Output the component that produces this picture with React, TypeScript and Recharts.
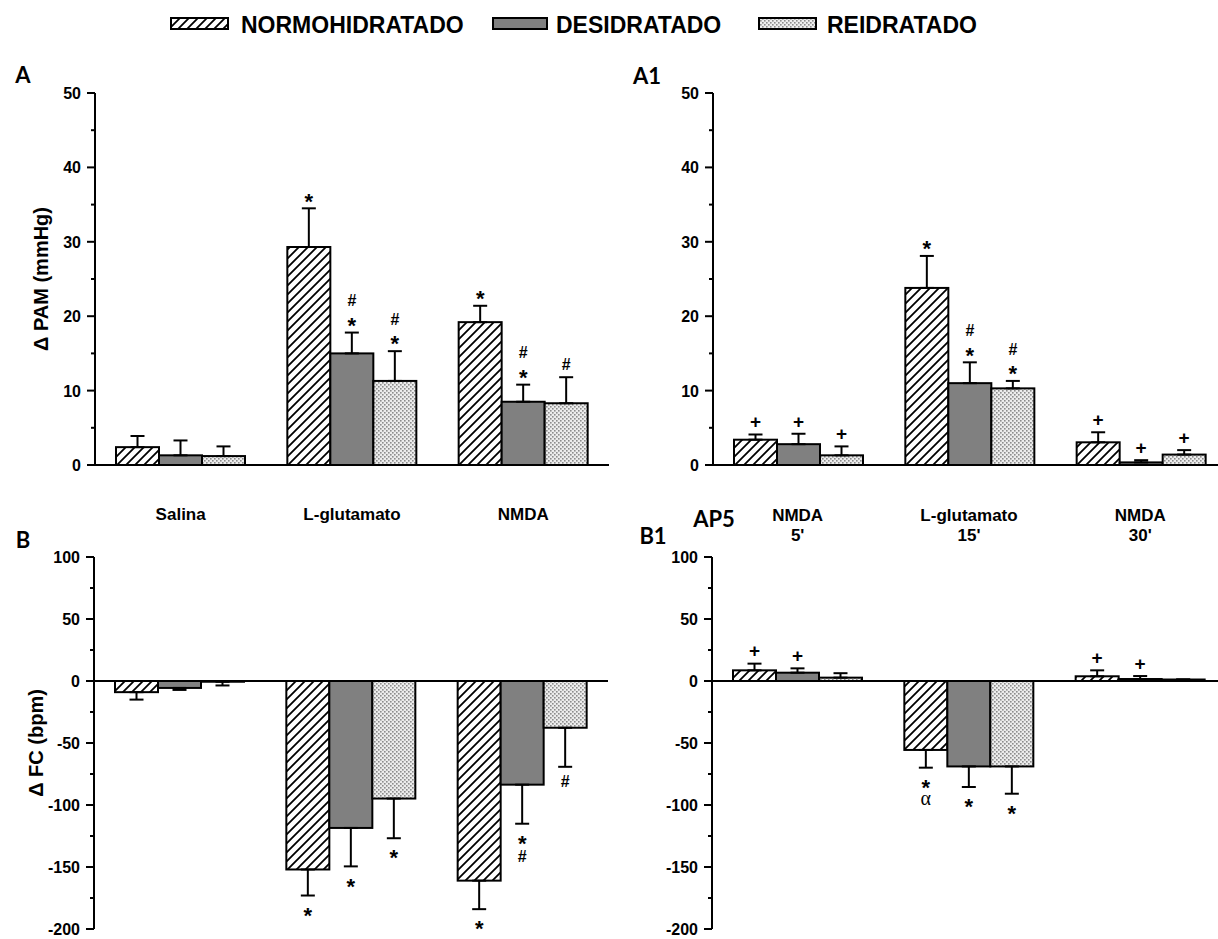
import React from 'react';
import { BarChart, Bar, XAxis, YAxis, ErrorBar, ReferenceLine } from 'recharts';

const sans = '"Liberation Sans", Arial, sans-serif';
const serif = '"Liberation Serif", "Times New Roman", serif';
const heading = 'Lato, "Open Sans", sans-serif';

const seriesNames = ['NORMOHIDRATADO', 'DESIDRATADO', 'REIDRATADO'];
const seriesKeys = ['normo', 'desid', 'reid'];
const fills = ['url(#hatch)', '#808080', 'url(#dots)'];

// categorias dos paineis A / B
const categories = ['Salina', 'L-glutamato', 'NMDA'];
// categorias dos paineis A1 / B1 (AP5)
const ap5Categories = ["NMDA\n5'", "L-glutamato\n15'", "NMDA\n30'"];

// A: Δ PAM (mmHg)
const pamNormo = [2.4, 29.3, 19.2];
const pamDesid = [1.3, 15.0, 8.5];
const pamReid = [1.2, 11.3, 8.3];
const pamNormoErr = [1.5, 5.2, 2.2];
const pamDesidErr = [2.0, 2.8, 2.3];
const pamReidErr = [1.3, 4.0, 3.5];
const pamNormoSig = ['', '*', '*'];
const pamDesidSig = ['', '#\n*', '#\n*'];
const pamReidSig = ['', '#\n*', '#'];

// A1: Δ PAM apos AP5
const ap5PamNormo = [3.4, 23.8, 3.05];
const ap5PamDesid = [2.8, 11.0, 0.35];
const ap5PamReid = [1.3, 10.3, 1.4];
const ap5PamNormoErr = [0.7, 4.3, 1.35];
const ap5PamDesidErr = [1.4, 2.8, 0.3];
const ap5PamReidErr = [1.2, 1.0, 0.6];
const ap5PamNormoSig = ['+', '*', '+'];
const ap5PamDesidSig = ['+', '#\n*', '+'];
const ap5PamReidSig = ['+', '#\n*', '+'];

// B: Δ FC (bpm)
const fcNormo = [-9, -152, -161];
const fcDesid = [-5.6, -118.5, -83.6];
const fcReid = [-0.6, -94.8, -37.7];
const fcNormoErr = [6, 21, 23];
const fcDesidErr = [1.6, 31, 31.5];
const fcReidErr = [3, 32, 31.5];
const fcNormoSig = ['', '*', '*'];
const fcDesidSig = ['', '*', '*\n#'];
const fcReidSig = ['', '*', '#'];

// B1: Δ FC apos AP5
const ap5FcNormo = [8.6, -55.6, 3.8];
const ap5FcDesid = [6.7, -68.9, 1.6];
const ap5FcReid = [2.7, -68.9, 1.2];
const ap5FcNormoErr = [5.4, 14.3, 4.8];
const ap5FcDesidErr = [3.5, 16.6, 2.4];
const ap5FcReidErr = [3.6, 22, 0];
const ap5FcNormoSig = ['+', '*\nα', '+'];
const ap5FcDesidSig = ['+', '*', '+'];
const ap5FcReidSig = ['', '*', ''];

const pamTicks = [0, 5, 10, 15, 20, 25, 30, 35, 40, 45, 50];
const fcTicks = [-200, -175, -150, -125, -100, -75, -50, -25, 0, 25, 50, 75, 100];

const buildRows = (cats: string[], vals: number[][], errs: number[][], sigs: string[][]) =>
  cats.map((c, i) => {
    const row: any = { cat: c };
    seriesKeys.forEach((k, s) => {
      const v = vals[s][i];
      const e = errs[s][i];
      row[k] = v;
      row[k + 'E'] = e;
      row[k + 'Err'] = v >= 0 ? [0, e] : [e, 0];
      row[k + 'Sig'] = sigs[s][i];
    });
    return row;
  });

const pamRows = buildRows(categories, [pamNormo, pamDesid, pamReid], [pamNormoErr, pamDesidErr, pamReidErr], [pamNormoSig, pamDesidSig, pamReidSig]);
const ap5PamRows = buildRows(ap5Categories, [ap5PamNormo, ap5PamDesid, ap5PamReid], [ap5PamNormoErr, ap5PamDesidErr, ap5PamReidErr], [ap5PamNormoSig, ap5PamDesidSig, ap5PamReidSig]);
const fcRows = buildRows(categories, [fcNormo, fcDesid, fcReid], [fcNormoErr, fcDesidErr, fcReidErr], [fcNormoSig, fcDesidSig, fcReidSig]);
const ap5FcRows = buildRows(ap5Categories, [ap5FcNormo, ap5FcDesid, ap5FcReid], [ap5FcNormoErr, ap5FcDesidErr, ap5FcReidErr], [ap5FcNormoSig, ap5FcDesidSig, ap5FcReidSig]);

const glyphs: any = {
  '*': { size: 22, off: 0.6, family: sans },
  '#': { size: 16, off: 0.36, family: sans },
  '+': { size: 19, off: 0.36, family: sans },
  'α': { size: 20, off: 0.24, family: serif },
};

// barra + sinais de significancia acima/abaixo da barra de erro
const makeShape = (key: string) => (props: any) => {
  const { x, y, width, height, fill, payload } = props;
  const v = payload[key];
  const top = Math.min(y, y + height);
  const h = Math.abs(height);
  const k = Math.abs(v) > 0 ? h / Math.abs(v) : 0;
  const up = v >= 0;
  const end = up ? top : top + h;
  const errEnd = up ? end - payload[key + 'E'] * k : end + payload[key + 'E'] * k;
  const lines: string[] = payload[key + 'Sig'] ? payload[key + 'Sig'].split('\n') : [];
  const cx = x + width / 2;
  const marks = lines.map((g, i) => {
    const st = glyphs[g] || glyphs['#'];
    const cy = up ? errEnd - 13 - (lines.length - 1 - i) * 19 : errEnd + 14 + i * 19;
    return (
      <text key={i} x={cx} y={cy + st.off * st.size} textAnchor="middle" fontSize={st.size}
        fontWeight={g === 'α' ? 'normal' : 'bold'} fontFamily={st.family} fill="#000">
        {g}
      </text>
    );
  });
  return (
    <g>
      <rect x={x} y={top} width={width} height={h} fill={fill} stroke="#000" strokeWidth={2} />
      {marks}
    </g>
  );
};

const YTick = (props: any) => {
  const { x, y, payload, major } = props;
  const isMajor = payload.value % major === 0;
  return (
    <g>
      <line x1={x - (isMajor ? 8 : 4)} x2={x} y1={y} y2={y} stroke="#000" strokeWidth={2} />
      {isMajor && (
        <text x={x - 14} y={y + 6} textAnchor="end" fontSize={16} fontWeight="bold" fontFamily={sans} fill="#000">
          {payload.value}
        </text>
      )}
    </g>
  );
};

const CatTick = (props: any) => {
  const { x, y, payload, dys } = props;
  const parts = String(payload.value).split('\n');
  return (
    <g>
      {parts.map((p, i) => (
        <text key={i} x={x} y={y + dys[i]} textAnchor="middle" fontSize={17} fontWeight="bold" fontFamily={sans} fill="#000">
          {p}
        </text>
      ))}
    </g>
  );
};

const Panel = ({ rows, left, top, yAxisWidth, marginTop, xMode, domain, ticks, major, yTitle, titleX }: any) => {
  const plotW = 514;
  const plotH = 372;
  const xH = xMode === 'bottom' || xMode === 'top' ? 70 : xMode === 'line' ? 10 : 0;
  const height = marginTop + plotH + xH + 12;
  const width = yAxisWidth + plotW + 8;
  return (
    <div style={{ position: 'absolute', left, top }}>
      <BarChart width={width} height={height} data={rows} barSize={43} barGap={0}
        margin={{ top: marginTop, right: 8, left: 0, bottom: 12 }}>
        {xMode === 'bottom' && (
          <XAxis dataKey="cat" height={70} interval={0} tickLine={false} tickSize={0} tickMargin={0}
            axisLine={{ stroke: '#000', strokeWidth: 2 }} tick={<CatTick dys={[55]} />} />
        )}
        {xMode === 'line' && (
          <XAxis dataKey="cat" height={10} tick={false} tickLine={false} axisLine={{ stroke: '#000', strokeWidth: 2 }} />
        )}
        {xMode === 'top' && (
          <XAxis dataKey="cat" orientation="top" height={70} interval={0} tickLine={false} tickSize={0} tickMargin={0}
            axisLine={false} tick={<CatTick dys={[-36, -16]} />} />
        )}
        {xMode === 'zero' && <XAxis dataKey="cat" hide />}
        <YAxis type="number" domain={domain} ticks={ticks} interval={0} width={yAxisWidth} tickLine={false}
          tickSize={0} tickMargin={0} axisLine={{ stroke: '#000', strokeWidth: 2 }}
          tick={<YTick major={major} />}
          label={yTitle ? {
            content: (p: any) => {
              const vb = p.viewBox;
              return (
                <text transform={`translate(${vb.x + titleX}, ${vb.y + vb.height / 2}) rotate(-90)`} textAnchor="middle"
                  dominantBaseline="central" fontSize={20} fontWeight="bold" fontFamily={sans} fill="#000">
                  {yTitle}
                </text>
              );
            },
          } : undefined} />
        {(xMode === 'top' || xMode === 'zero') && <ReferenceLine y={0} stroke="#000" strokeWidth={2} />}
        {seriesKeys.map((k, s) => (
          <Bar key={k} dataKey={k} name={seriesNames[s]} fill={fills[s]} isAnimationActive={false} shape={makeShape(k)}>
            <ErrorBar dataKey={k + 'Err'} width={7} strokeWidth={2} stroke="#000" direction="y" isAnimationActive={false} />
          </Bar>
        ))}
      </BarChart>
    </div>
  );
};

const swatches = [
  { x: 171, w: 57, tx: 241 },
  { x: 493, w: 54, tx: 556 },
  { x: 759, w: 57, tx: 827 },
];

const App: React.FC = () => (
  <div style={{ position: 'absolute', left: 0, top: 0, width: 1218, height: 939, overflow: 'hidden', background: '#fff' }}>
    <svg width={1218} height={939} style={{ position: 'absolute', left: 0, top: 0 }}>
      <defs>
        <pattern id="hatch" patternUnits="userSpaceOnUse" width="9" height="9">
          <rect width="9" height="9" fill="#fff" />
          <path d="M0,9 L9,0 M-3,3 L3,-3 M6,12 L12,6" stroke="#000" strokeWidth="1.8" />
        </pattern>
        <pattern id="dots" patternUnits="userSpaceOnUse" width="4" height="4">
          <rect width="4" height="4" fill="#ececec" />
          <rect x="0" y="0" width="1.6" height="1.6" fill="#8c8c8c" />
          <rect x="2" y="2" width="1.6" height="1.6" fill="#8c8c8c" />
        </pattern>
      </defs>
      {swatches.map((s, i) => (
        <g key={i}>
          <rect x={s.x} y={18} width={s.w} height={11} fill={fills[i]} stroke="#000" strokeWidth={2} />
          <text x={s.tx} y={33} fontSize={23} fontWeight="bold" fontFamily={sans} fill="#000">{seriesNames[i]}</text>
        </g>
      ))}
      <text x={23} y={83} textAnchor="middle" fontSize={22} fontWeight="bold" fontFamily={heading}>A</text>
      <text x={647} y={84} textAnchor="middle" fontSize={22} fontWeight="bold" fontFamily={heading}>A1</text>
      <text x={23} y={548} textAnchor="middle" fontSize={22} fontWeight="bold" fontFamily={heading}>B</text>
      <text x={653} y={544} textAnchor="middle" fontSize={22} fontWeight="bold" fontFamily={heading}>B1</text>
      <text x={714} y={527} textAnchor="middle" fontSize={22} fontWeight="bold" fontFamily={heading}>AP5</text>
    </svg>
    <Panel rows={pamRows} left={0} top={60} yAxisWidth={95} marginTop={33} xMode="bottom"
      domain={[0, 50]} ticks={pamTicks} major={10} yTitle="Δ PAM (mmHg)" titleX={41} />
    <Panel rows={ap5PamRows} left={600} top={60} yAxisWidth={113} marginTop={33} xMode="line"
      domain={[0, 50]} ticks={pamTicks} major={10} />
    <Panel rows={fcRows} left={0} top={527} yAxisWidth={94} marginTop={30} xMode="zero"
      domain={[-200, 100]} ticks={fcTicks} major={50} yTitle="Δ FC (bpm)" titleX={36} />
    <Panel rows={ap5FcRows} left={600} top={487} yAxisWidth={112} marginTop={0} xMode="top"
      domain={[-200, 100]} ticks={fcTicks} major={50} />
  </div>
);

export default App;
